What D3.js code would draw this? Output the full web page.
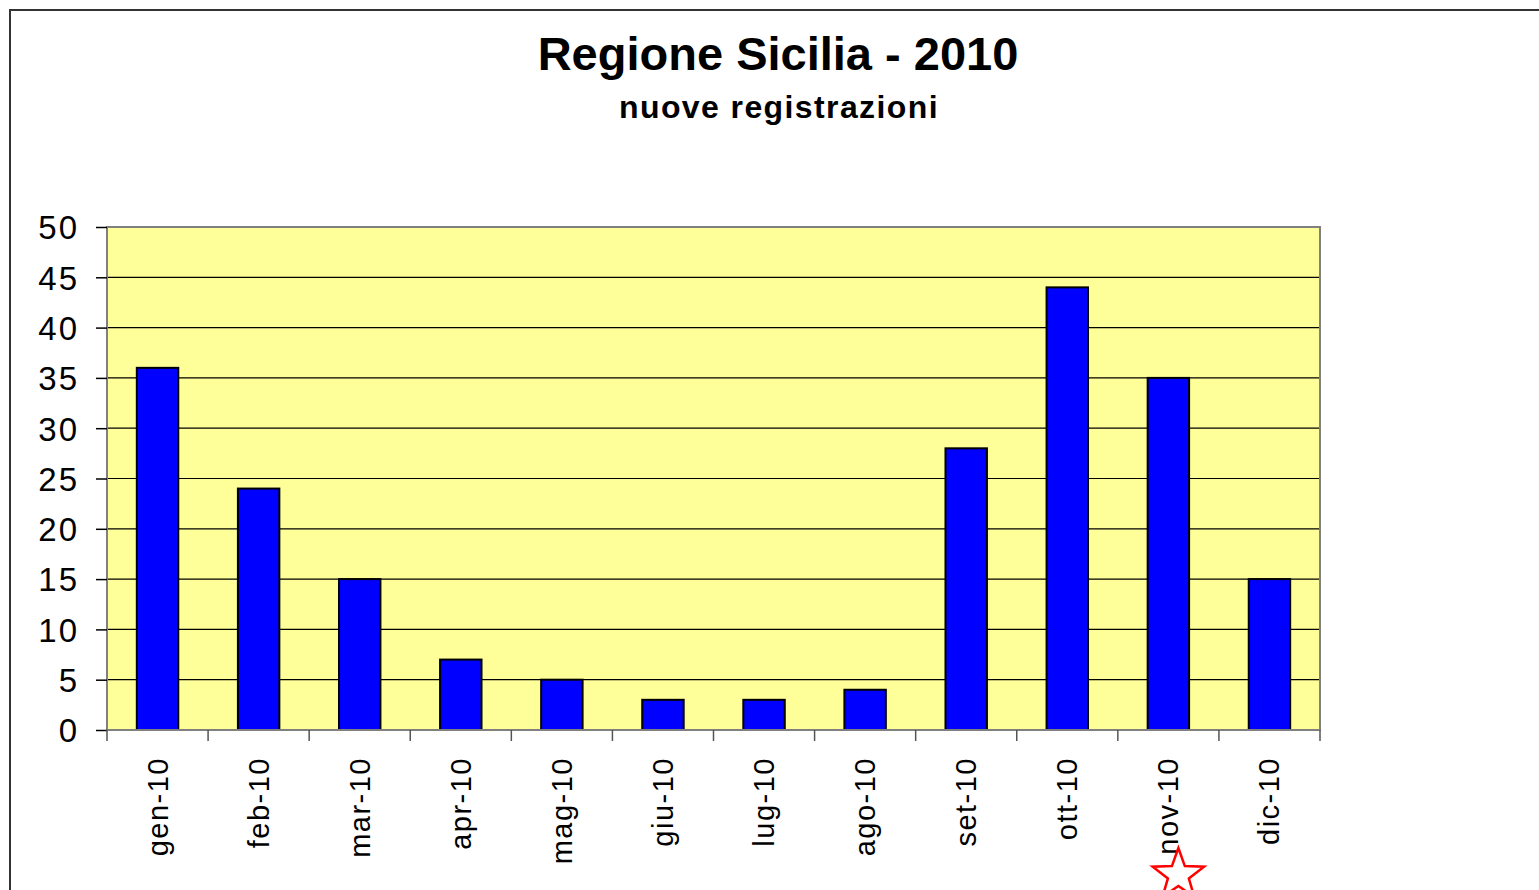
<!DOCTYPE html>
<html><head><meta charset="utf-8">
<script src="https://cdn.jsdelivr.net/npm/d3@7"></script>
<style>body{margin:0;background:#fff;overflow:hidden}svg{display:block;font-family:Arial,"Liberation Sans",sans-serif}</style>
</head><body>
<svg id="c" width="1539" height="890"></svg>
<script>
const categories = ["gen-10","feb-10","mar-10","apr-10","mag-10","giu-10","lug-10","ago-10","set-10","ott-10","nov-10","dic-10"];
const values = [36,24,15,7,5,3,3,4,28,44,35,15];
const yTicks = [0,5,10,15,20,25,30,35,40,45,50];
const title = "Regione Sicilia - 2010";
const subtitle = "nuove registrazioni";

const svg = d3.select("#c");
svg.append("rect").attr("x",10).attr("y",10).attr("width",1560).attr("height",900)
  .attr("fill","#fff").attr("stroke","#333").attr("stroke-width",2);

const L=107,R=1320,T=227,B=730;
const x = d3.scaleBand().domain(categories).range([L,R]).paddingInner(0.59).paddingOuter(0.295);
const xb = d3.scaleBand().domain(categories).range([L,R]);
const y = d3.scaleLinear().domain([0,50]).range([B,T]);

svg.append("rect").attr("x",L).attr("y",T).attr("width",R-L).attr("height",B-T).attr("fill","#FFFF99");
svg.append("g").selectAll("line").data(yTicks.filter(d=>d>0&&d<50)).join("line")
  .attr("x1",L).attr("x2",R).attr("y1",d=>y(d)).attr("y2",d=>y(d)).attr("stroke","#000").attr("stroke-width",1.2);

svg.append("g").selectAll("rect").data(values).join("rect")
  .attr("x",(d,i)=>x(categories[i])).attr("width",x.bandwidth())
  .attr("y",d=>y(d)).attr("height",d=>B-y(d))
  .attr("fill","#0000FF").attr("stroke","#000").attr("stroke-width",2);

svg.append("rect").attr("x",L).attr("y",T).attr("width",R-L).attr("height",B-T)
  .attr("fill","none").attr("stroke","#808080").attr("stroke-width",2);

// y axis
const ya = svg.append("g").attr("transform",`translate(${L},0)`)
  .call(d3.axisLeft(y).tickValues(yTicks).tickSize(11).tickPadding(19));
ya.select(".domain").remove();
ya.selectAll("line").attr("stroke","#000").attr("stroke-width",1.5);
ya.selectAll("text").attr("font-size",33).attr("letter-spacing","2px").attr("fill","#000").attr("dy","0.36em").attr("dx","2");

// x axis ticks at band boundaries
const bounds = categories.map(c=>xb(c)).concat([R]);
svg.append("g").selectAll("line").data(bounds).join("line")
  .attr("x1",d=>d).attr("x2",d=>d).attr("y1",B).attr("y2",B+11).attr("stroke","#555").attr("stroke-width",1.5);
svg.append("g").selectAll("text").data(categories).join("text")
  .attr("transform",d=>`translate(${xb(d)+xb.bandwidth()/2+10},757) rotate(-90)`)
  .attr("text-anchor","end").attr("font-size",29).attr("letter-spacing","1.5px").attr("fill","#000").text(d=>d);

svg.append("text").attr("x",778).attr("y",70).attr("text-anchor","middle")
  .attr("font-size",47).attr("font-weight","bold").text(title);
svg.append("text").attr("x",779).attr("y",118).attr("text-anchor","middle")
  .attr("font-size",32).attr("font-weight","bold").attr("letter-spacing","1.4px").text(subtitle);

// star near nov-10
const cx = xb("nov-10")+xb.bandwidth()/2+10, cy=875, ro=27, ri=11;
const pts=[];
for(let k=0;k<10;k++){const r=k%2?ri:ro;const a=-Math.PI/2+k*Math.PI/5;pts.push([cx+r*Math.cos(a),cy+r*Math.sin(a)]);}
svg.append("polygon").attr("points",pts.map(p=>p.join(",")).join(" ")).attr("fill","#fff").attr("stroke","#FF0000").attr("stroke-width",2.5);
</script>
</body></html>
